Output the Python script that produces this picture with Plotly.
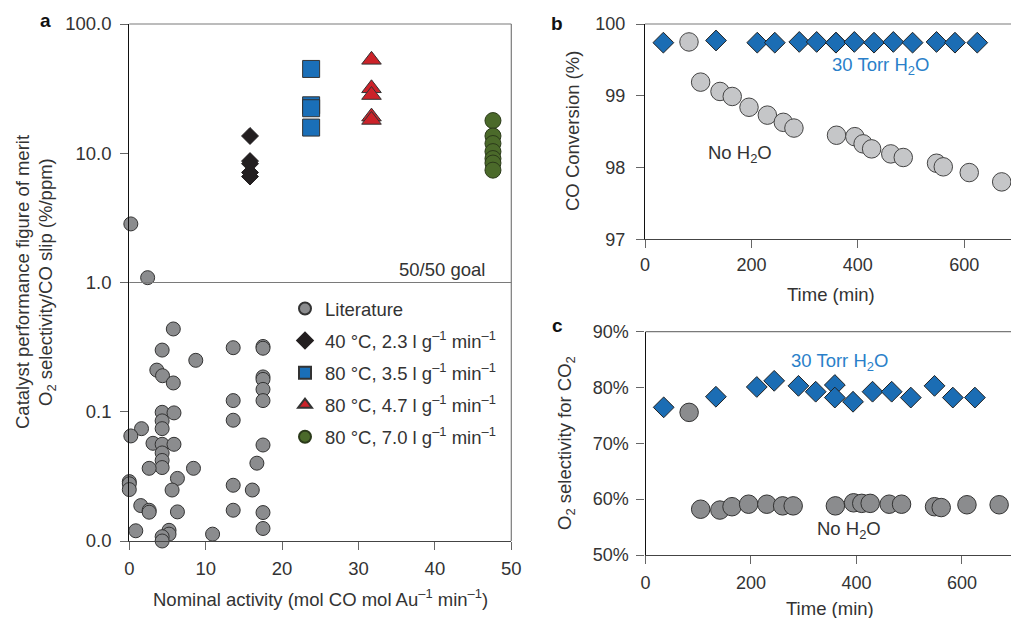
import plotly.graph_objects as go

# ---------------- data ----------------
lit_x = [0.2, 2.4, 5.76, 4.3, 13.6, 17.5, 17.5, 8.7, 3.6, 4.35, 5.76, 17.5, 17.5, 17.5,
         13.6, 17.5, 4.3, 4.3, 5.85, 13.6, 1.6, 0.2, 4.3, 3.1, 4.3, 5.85, 4.3, 4.3, 4.3,
         2.6, 8.4, 16.7, 17.5, 0.0, 0.0, 0.0, 6.3, 5.6, 13.6, 16.1, 1.5, 2.6, 2.6, 6.3,
         13.6, 17.5, 0.85, 5.2, 5.2, 4.3, 4.3, 10.9, 17.5]
lit_y = [2.84, 1.09, 0.437, 0.30, 0.313, 0.32, 0.31, 0.25, 0.21, 0.19, 0.167, 0.186, 0.178, 0.149,
         0.122, 0.122, 0.099, 0.085, 0.098, 0.086, 0.074, 0.065, 0.074, 0.057, 0.056, 0.056, 0.048, 0.042, 0.037,
         0.0365, 0.0365, 0.040, 0.0553, 0.0288, 0.0277, 0.0250, 0.0305, 0.0248, 0.027, 0.0248, 0.0188, 0.0173, 0.0167, 0.0168,
         0.0173, 0.0166, 0.012, 0.0121, 0.0113, 0.0108, 0.0100, 0.0113, 0.0125]

c40_x = [15.8, 15.8, 15.8, 15.8, 15.8]
c40_y = [13.6, 8.7, 8.3, 7.1, 6.6]
c35_x = [23.8, 23.8, 23.8, 23.8]
c35_y = [44.9, 23.5, 22.3, 15.8]
c47_x = [31.7, 31.7, 31.7, 31.7, 31.7]
c47_y = [52.8, 31.8, 28.2, 19.2, 18.1]
c70_x = [47.6, 47.6, 47.6, 47.6, 47.6, 47.6, 47.6]
c70_y = [17.9, 13.6, 11.9, 10.3, 9.1, 8.4, 7.4]

a_ticks = [0.01, 0.1, 1, 10, 100]
a_ticktext = ["0.0", "0.1", "1.0", "10.0", "100.0"]

# panels b / c
h2o_t = [34.5, 133.5, 211, 244, 290, 322.7, 359, 359, 393.5, 430.5, 466.8, 503, 548, 582.7, 624.6]
h2o_conv = [99.74, 99.77, 99.74, 99.74, 99.75, 99.75, 99.74, 99.74, 99.75, 99.74, 99.75, 99.74, 99.75, 99.74, 99.74]
h2o_sel = [76.45, 78.35, 80.1, 81.2, 80.3, 79.25, 80.45, 78.2, 77.45, 79.25, 79.25, 78.2, 80.3, 78.2, 78.2]

dry_t = [82.7, 104.6, 141, 164, 195.5, 230, 260, 280, 360, 394.5, 410, 426, 462, 485.5, 548, 560.7, 609.5, 670.5]
dry_conv = [99.75, 99.19, 99.06, 98.99, 98.84, 98.73, 98.63, 98.55, 98.45, 98.43, 98.33, 98.26, 98.19, 98.14,
            98.06, 98.01, 97.93, 97.80]
dry_sel = [75.55, 58.2, 58.05, 58.65, 59.1, 59.1, 58.8, 58.8, 58.8, 59.35, 59.25, 59.25, 59.1, 59.1,
           58.65, 58.5, 59.0, 59.0]

# ---------------- styles ----------------
FONT = "Liberation Sans, Arial, Helvetica, sans-serif"
TXT = "#333333"
TICKC = "#666666"
BLUE = "#1b6db4"
W, H = 1011, 618
FS = 18.5

def px_x(p):
    return p / W

def px_y(p):
    return 1 - p / H

fig = go.Figure()

outline = dict(color="#333333", width=1)

fig.add_trace(go.Scatter(x=lit_x, y=lit_y, mode="markers", name="Literature",
                         marker=dict(symbol="circle", size=14, color="#8b8c8e", line=outline),
                         xaxis="x", yaxis="y", cliponaxis=False, legendgroup="g1"))
fig.add_trace(go.Scatter(x=c40_x, y=c40_y, mode="markers",
                         name="40 °C, 2.3 l g<sup>–1</sup> min<sup>–1</sup>",
                         marker=dict(symbol="diamond", size=13, color="#231f20", line=dict(color="#231f20", width=1)),
                         xaxis="x", yaxis="y", cliponaxis=False, legendgroup="g2"))
fig.add_trace(go.Scatter(x=c35_x, y=c35_y, mode="markers",
                         name="80 °C, 3.5 l g<sup>–1</sup> min<sup>–1</sup>",
                         marker=dict(symbol="square", size=17, color="#1a6fb8", line=outline),
                         xaxis="x", yaxis="y", cliponaxis=False, legendgroup="g3"))
fig.add_trace(go.Scatter(x=c47_x, y=c47_y, mode="markers",
                         name="80 °C, 4.7 l g<sup>–1</sup> min<sup>–1</sup>",
                         marker=dict(symbol="triangle-up", size=17, color="#cc2229", line=outline),
                         xaxis="x", yaxis="y", cliponaxis=False, legendgroup="g4"))
fig.add_trace(go.Scatter(x=c70_x, y=c70_y, mode="markers",
                         name="80 °C, 7.0 l g<sup>–1</sup> min<sup>–1</sup>",
                         marker=dict(symbol="circle", size=16, color="#4b6a2a", line=dict(color="#2b3a1a", width=1)),
                         xaxis="x", yaxis="y", cliponaxis=False, legendgroup="g5"))

# panel b
fig.add_trace(go.Scatter(x=dry_t, y=dry_conv, mode="markers", showlegend=False,
                         marker=dict(symbol="circle", size=18.5, color="#c5c6c8", line=dict(color="#444444", width=1)),
                         xaxis="x2", yaxis="y2", cliponaxis=False))
fig.add_trace(go.Scatter(x=h2o_t, y=h2o_conv, mode="markers", showlegend=False,
                         marker=dict(symbol="diamond", size=16, color=BLUE, line=dict(color="#222222", width=1)),
                         xaxis="x2", yaxis="y2", cliponaxis=False))
# panel c
fig.add_trace(go.Scatter(x=dry_t, y=dry_sel, mode="markers", showlegend=False,
                         marker=dict(symbol="circle", size=18.5, color="#8b8c8e", line=dict(color="#333333", width=1)),
                         xaxis="x3", yaxis="y3", cliponaxis=False))
fig.add_trace(go.Scatter(x=h2o_t, y=h2o_sel, mode="markers", showlegend=False,
                         marker=dict(symbol="diamond", size=16, color=BLUE, line=dict(color="#222222", width=1)),
                         xaxis="x3", yaxis="y3", cliponaxis=False))

axcommon = dict(showgrid=False, zeroline=False, ticks="outside", ticklen=8, tickcolor=TICKC,
                showline=True, linewidth=1.2, automargin=False)
tf_a = dict(family=FONT, size=18.5, color=TXT)
tf_b = dict(family=FONT, size=18, color=TXT)

dom_a_x = [px_x(129.3), px_x(511.3)]
dom_a_y = [px_y(541), px_y(24)]
dom_b_x = [px_x(645), 1.0]
dom_b_y = [px_y(239.3), px_y(24)]
dom_c_x = [px_x(645.5), 1.0]
dom_c_y = [px_y(555), px_y(331.7)]

fig.update_layout(
    width=W, height=H,
    margin=dict(l=0, r=0, t=0, b=0, pad=0, autoexpand=False),
    paper_bgcolor="white", plot_bgcolor="white",
    font=dict(family=FONT, size=FS, color=TXT),
    xaxis=dict(domain=dom_a_x, range=[0, 50], tickvals=[0, 10, 20, 30, 40, 50], linecolor="#444444",
               anchor="y", tickfont=tf_a, ticklabelstandoff=3, **axcommon),
    yaxis=dict(domain=dom_a_y, type="log", range=[-2, 2], tickvals=a_ticks, ticktext=a_ticktext,
               linecolor="#111111", anchor="x", tickfont=tf_a, ticklabelstandoff=5, **axcommon),
    xaxis2=dict(domain=dom_b_x, range=[0, 688], tickvals=[0, 200, 400, 600], linecolor="#444444",
                anchor="y2", tickfont=tf_b, ticklabelstandoff=1, **axcommon),
    yaxis2=dict(domain=dom_b_y, range=[97, 100], tickvals=[97, 98, 99, 100], linecolor="#111111",
                anchor="x2", tickfont=tf_b, ticklabelstandoff=7, **axcommon),
    xaxis3=dict(domain=dom_c_x, range=[0, 693], tickvals=[0, 200, 400, 600], linecolor="#444444",
                anchor="y3", tickfont=tf_b, ticklabelstandoff=3, **axcommon),
    yaxis3=dict(domain=dom_c_y, range=[50, 90], tickvals=[50, 60, 70, 80, 90],
                ticktext=["50%", "60%", "70%", "80%", "90%"], linecolor="#111111", anchor="x3",
                tickfont=tf_b, ticklabelstandoff=4, **axcommon),
    legend=dict(x=px_x(285), y=px_y(290), xanchor="left", yanchor="top", bgcolor="rgba(0,0,0,0)",
                font=dict(family=FONT, size=FS, color=TXT), itemsizing="constant",
                traceorder="grouped", tracegroupgap=5),
    showlegend=True,
)

border = dict(color="#7a7a7a", width=1.2)
# panel a top/right borders and 50/50 goal line
fig.add_shape(type="line", xref="x domain", yref="y domain", x0=0, x1=1, y0=1, y1=1, line=border)
fig.add_shape(type="line", xref="x domain", yref="y domain", x0=1, x1=1, y0=0, y1=1, line=border)
fig.add_shape(type="line", xref="x domain", yref="y", x0=0, x1=1, y0=1, y1=1, line=border)
# panel b and c top borders
fig.add_shape(type="line", xref="x2 domain", yref="y2 domain", x0=0, x1=1, y0=1, y1=1, line=border)
fig.add_shape(type="line", xref="x3 domain", yref="y3 domain", x0=0, x1=1, y0=1, y1=1, line=border)

def ann(text, x, y, size=FS, color=TXT, angle=0, bold=False, xanchor="center"):
    fig.add_annotation(text=("<b>%s</b>" % text) if bold else text, x=px_x(x), y=px_y(y),
                       xref="paper", yref="paper", showarrow=False, textangle=angle,
                       xanchor=xanchor, yanchor="middle",
                       font=dict(family=FONT, size=size, color=color))

# panel labels
ann("a", 45, 21, size=19, color="#111111", bold=True)
ann("b", 557, 23, size=19, color="#111111", bold=True)
ann("c", 557, 326, size=19, color="#111111", bold=True)

# axis titles
ann("Catalyst performance figure of merit", 22, 282, angle=-90)
ann("O<sub>2</sub> selectivity/CO slip (%/ppm)", 47, 282, angle=-90)
ann("Nominal activity (mol CO mol Au<sup>–1</sup> min<sup>–1</sup>)", 320, 598)
ann("CO Conversion (%)", 572, 131, angle=-90)
ann("Time (min)", 831, 295)
ann("O<sub>2</sub> selectivity for CO<sub>2</sub>", 566, 443, angle=-90)
ann("Time (min)", 830, 608)

# in-plot labels
ann("50/50 goal", 487, 269, xanchor="right")
ann("30 Torr H<sub>2</sub>O", 880, 66, color="#2a7fc9")
ann("No H<sub>2</sub>O", 740, 154)
ann("30 Torr H<sub>2</sub>O", 839, 362, color="#2a7fc9")
ann("No H<sub>2</sub>O", 849, 530)

fig.write_html("out.html")
